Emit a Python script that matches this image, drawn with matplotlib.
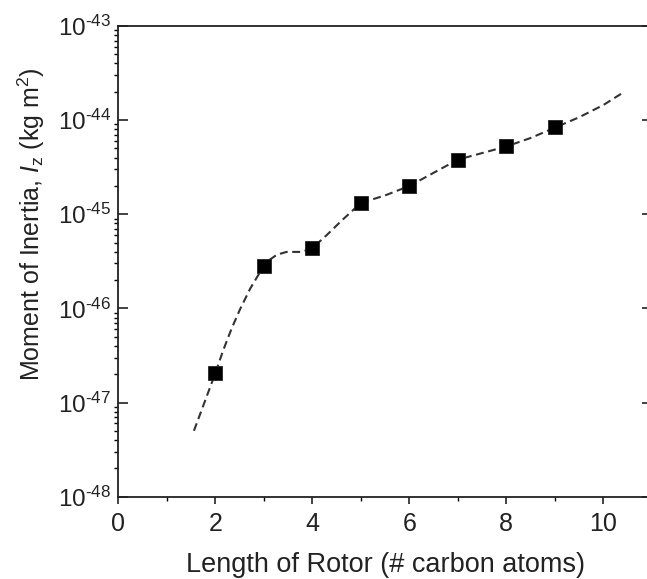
import numpy as np
import matplotlib
matplotlib.use("Agg")
import matplotlib.pyplot as plt
from matplotlib.ticker import LogLocator, MultipleLocator, NullFormatter, FuncFormatter

plt.rcParams['font.family'] = ['Liberation Sans', 'DejaVu Sans']
plt.rcParams['mathtext.fontset'] = 'custom'
plt.rcParams['mathtext.rm'] = 'Liberation Sans'
plt.rcParams['mathtext.it'] = 'Liberation Sans:italic'
plt.rcParams['mathtext.bf'] = 'Liberation Sans:bold'
plt.rcParams['axes.unicode_minus'] = False

# Data: rotor length (# carbon atoms) vs moment of inertia (kg m^2)
n_carbon = [2, 3, 4, 5, 6, 7, 8, 9]
inertia = [2.04e-47, 2.84e-46, 4.4e-46, 1.32e-45, 2.0e-45, 3.8e-45, 5.3e-45, 8.4e-45]

# Dashed guide curve (x, log10 of inertia)
curve_x = [1.56, 2.0, 2.16, 2.34, 2.51, 2.72, 2.87, 3.0, 3.13, 3.27, 3.47, 3.78, 4.0,
           4.3, 4.6, 5.0, 5.5, 6.0, 6.5, 7.0, 7.5, 8.0, 8.5, 9.0, 9.5, 10.0, 10.43]
curve_log = [-47.30, -46.69, -46.45, -46.21, -46.01, -45.79, -45.66, -45.55, -45.48, -45.43,
             -45.40, -45.40, -45.36, -45.22, -45.07, -44.88, -44.80, -44.70, -44.56, -44.42,
             -44.35, -44.28, -44.19, -44.08, -43.97, -43.84, -43.70]

fig = plt.figure(figsize=(6.47, 5.79), dpi=100)
ax = fig.add_axes([0.1828, 0.1422, 0.8246, 0.8129])

ax.plot(curve_x, 10 ** np.array(curve_log), color='#333333', lw=1.5,
        linestyle=(0, (3.8, 2.2)), zorder=2)
ax.plot(n_carbon, inertia, linestyle='none', marker='s', markersize=10.2,
        color='black', markeredgecolor='#222222', markeredgewidth=0.6, zorder=3)

ax.set_yscale('log')
ax.set_xlim(0, 11)
ax.set_ylim(1e-48, 1e-43)

ax.xaxis.set_major_locator(MultipleLocator(2))
ax.xaxis.set_minor_locator(MultipleLocator(1))
ax.yaxis.set_major_locator(LogLocator(base=10, numticks=10))
ax.yaxis.set_minor_locator(LogLocator(base=10, subs=np.arange(2, 10), numticks=20))
ax.yaxis.set_minor_formatter(NullFormatter())


def pow_fmt(v, pos):
    e = int(round(np.log10(v)))
    return r'10$^{\text{%d}}$' % e


ax.yaxis.set_major_formatter(FuncFormatter(pow_fmt))

ax.tick_params(axis='both', which='major', direction='out', length=5, width=1.2,
               colors='#222222')
ax.tick_params(axis='x', which='major', labelsize=18, pad=6)
ax.tick_params(axis='y', which='major', labelsize=17.5, pad=5)
ax.tick_params(axis='both', which='minor', direction='out', length=3, width=1.0)
ax.tick_params(axis='y', which='major', right=True)
ax.yaxis.set_tick_params(which='major', direction='in', length=7)
ax.tick_params(axis='y', which='minor', right=False)

for side in ['left', 'bottom', 'top', 'right']:
    ax.spines[side].set_linewidth(1.3)
    ax.spines[side].set_color('#222222')

ax.set_xlabel('Length of Rotor (# carbon atoms)', fontsize=19.5, color='#222222')
ax.xaxis.set_label_coords(0.5, -0.118)
ax.set_ylabel(r'Moment of Inertia, $\mathit{I}_{\mathrm{z}}$ (kg m$^{2}$)', fontsize=18,
              color='#222222')
ax.yaxis.set_label_coords(-0.134, 0.58)

fig.savefig('out.png', dpi=100)
